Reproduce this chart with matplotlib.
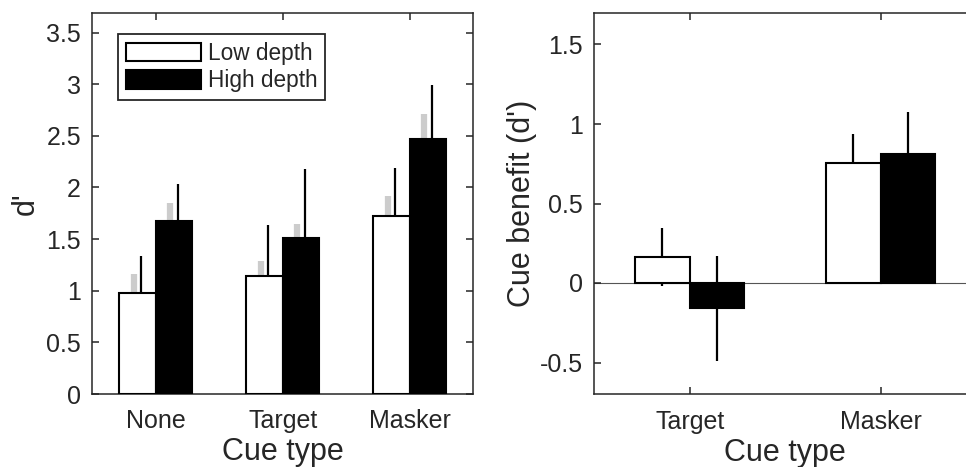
import matplotlib
matplotlib.use("Agg")
import matplotlib.pyplot as plt
import numpy as np
from matplotlib.patches import Patch

plt.rcParams.update({
    'font.family': ['Liberation Sans', 'DejaVu Sans'],
    'font.size': 18,
    'text.color': '#262626',
    'axes.edgecolor': '#262626',
    'axes.labelcolor': '#262626',
    'xtick.color': '#262626',
    'ytick.color': '#262626',
    'axes.linewidth': 1.1,
    'xtick.direction': 'in',
    'ytick.direction': 'in',
    'xtick.major.size': 5,
    'ytick.major.size': 5,
    'xtick.major.width': 1.1,
    'ytick.major.width': 1.1,
    'xtick.top': True,
    'ytick.right': True,
})

# ── Data ────────────────────────────────────────────────────────────
cues_left = ["None", "Target", "Masker"]
low_d = [0.98, 1.14, 1.726]
high_d = [1.675, 1.513, 2.47]
low_err = [0.356, 0.50, 0.464]        # black bars
high_err = [0.355, 0.667, 0.52]
low_err_within = [0.18, 0.15, 0.19]   # gray bars
high_err_within = [0.175, 0.132, 0.24]

cues_right = ["Target", "Masker"]
low_benefit = [0.164, 0.752]
high_benefit = [-0.158, 0.811]
low_benefit_err = [0.182, 0.183]
high_benefit_err = [0.33, 0.266]

series_labels = ["Low depth", "High depth"]

BW = 0.286      # bar width
GRAY = '#cccccc'

fig = plt.figure(figsize=(9.66, 4.67), dpi=100)
ax1 = fig.add_axes([92 / 966, 1 - 394 / 467, 381.3 / 966, 381 / 467])
ax2 = fig.add_axes([594.3 / 966, 1 - 394.3 / 467, 382 / 966, 381.6 / 467])


def draw_bars(ax, x, vals, errs, face, gray_errs=None):
    ax.bar(x, vals, BW, color=face, edgecolor='black', linewidth=1.5, zorder=3)
    if gray_errs is None:
        ax.errorbar(x, vals, yerr=errs, fmt='none', ecolor='black',
                    elinewidth=1.6, capsize=0, zorder=2)
    else:
        ax.errorbar(x - 0.03, vals, yerr=gray_errs, fmt='none', ecolor=GRAY,
                    elinewidth=4.5, capsize=0, zorder=2)
        ax.errorbar(x + 0.03, vals, yerr=errs, fmt='none', ecolor='black',
                    elinewidth=1.6, capsize=0, zorder=2)


# ── Left panel: d' ─────────────────────────────────────────────────
x1 = np.arange(1, len(cues_left) + 1)
draw_bars(ax1, x1 - BW / 2, low_d, low_err, 'white', low_err_within)
draw_bars(ax1, x1 + BW / 2, high_d, high_err, 'black', high_err_within)
ax1.set_xlim(0.5, 3.5)
ax1.set_ylim(0, 3.69)
ax1.set_xticks(x1)
ax1.set_xticklabels(cues_left)
ax1.set_yticks(np.arange(0, 3.6, 0.5))
ax1.set_yticklabels(['0', '0.5', '1', '1.5', '2', '2.5', '3', '3.5'])
ax1.set_xlabel("Cue type", fontsize=22, labelpad=3)
ax1.set_ylabel("d'", fontsize=22, labelpad=4)

handles = [Patch(facecolor='white', edgecolor='black', linewidth=1.5),
           Patch(facecolor='black', edgecolor='black', linewidth=1.5)]
leg = ax1.legend(handles, series_labels, loc='upper left',
                 bbox_to_anchor=(0.069, 0.945), fontsize=16.3, frameon=True,
                 fancybox=False, edgecolor='#262626', framealpha=1,
                 handlelength=3.3, handleheight=0.9, handletextpad=0.3,
                 labelspacing=0.2, borderpad=0.35, borderaxespad=0)
leg.get_frame().set_linewidth(1.3)

# ── Right panel: cue benefit ───────────────────────────────────────
x2 = np.arange(1, len(cues_right) + 1)
ax2.axhline(0, color='#555555', linewidth=0.8, zorder=1)
draw_bars(ax2, x2 - BW / 2, low_benefit, low_benefit_err, 'white')
draw_bars(ax2, x2 + BW / 2, high_benefit, high_benefit_err, 'black')
ax2.set_xlim(0.5, 2.5)
ax2.set_ylim(-0.7, 1.7)
ax2.set_xticks(x2)
ax2.set_xticklabels(cues_right)
ax2.set_yticks([-0.5, 0, 0.5, 1, 1.5])
ax2.set_yticklabels(['-0.5', '0', '0.5', '1', '1.5'])
ax2.set_xlabel("Cue type", fontsize=22, labelpad=3)
ax2.set_ylabel("Cue benefit (d')", fontsize=22, labelpad=2)

for ax in (ax1, ax2):
    ax.tick_params(axis='x', which='major', pad=11)
    ax.tick_params(axis='y', which='major', pad=8)

fig.savefig("out.png", dpi=100)
